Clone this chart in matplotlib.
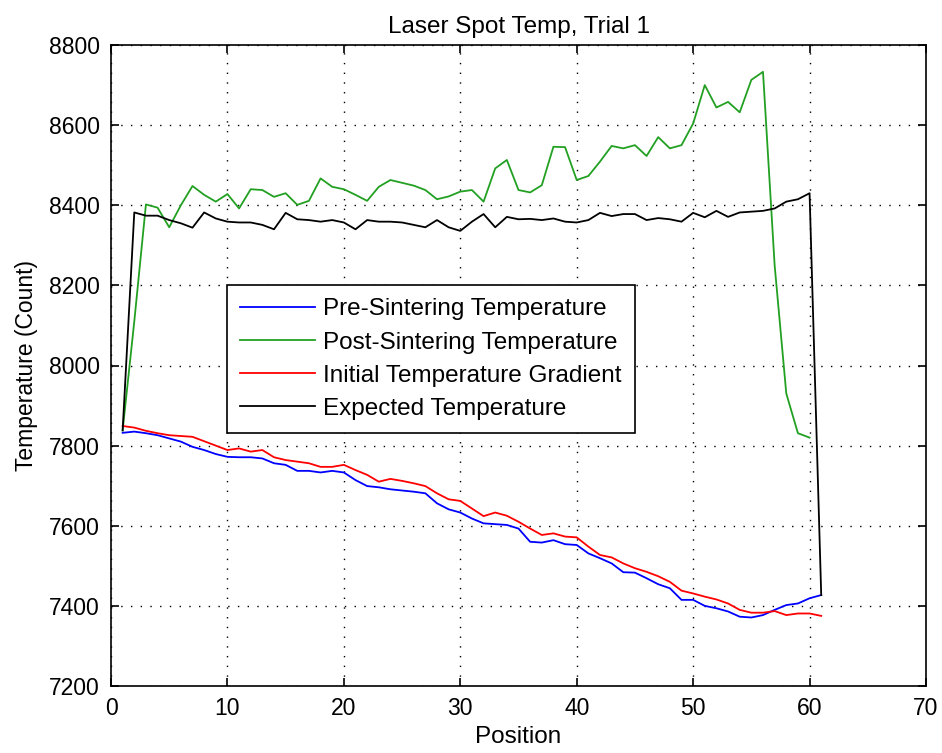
import matplotlib
matplotlib.use("Agg")
import matplotlib.pyplot as plt

positions = list(range(1, 62))
positions_post = list(range(1, 61))

pre_sintering = [7832, 7835, 7831, 7826, 7818, 7810, 7797, 7789, 7779, 7772,
                 7771, 7771, 7768, 7756, 7752, 7737, 7737, 7733, 7737, 7733,
                 7714, 7699, 7696, 7691, 7688, 7685, 7681, 7656, 7641, 7633,
                 7618, 7606, 7604, 7602, 7593, 7560, 7558, 7564, 7554, 7552,
                 7531, 7519, 7506, 7484, 7483, 7469, 7454, 7444, 7415, 7415,
                 7400, 7394, 7386, 7373, 7371, 7377, 7390, 7402, 7406, 7419,
                 7427]

post_sintering = [7838, 8110, 8402, 8394, 8345, 8400, 8448, 8426, 8409, 8428,
                  8392, 8440, 8438, 8421, 8430, 8401, 8411, 8467, 8446, 8440,
                  8426, 8411, 8446, 8463, 8456, 8449, 8438, 8415, 8422, 8434,
                  8438, 8409, 8492, 8513, 8438, 8432, 8450, 8546, 8545, 8463,
                  8473, 8509, 8548, 8542, 8550, 8523, 8570, 8542, 8550, 8604,
                  8700, 8644, 8658, 8632, 8713, 8733, 8250, 7930, 7831, 7820]

initial_gradient = [7849, 7845, 7837, 7831, 7826, 7824, 7822, 7811, 7800, 7789,
                    7793, 7785, 7789, 7771, 7764, 7760, 7756, 7747, 7747, 7752,
                    7739, 7727, 7710, 7717, 7712, 7706, 7699, 7681, 7666, 7662,
                    7643, 7624, 7633, 7625, 7610, 7593, 7577, 7581, 7573, 7571,
                    7548, 7527, 7521, 7506, 7494, 7485, 7474, 7460, 7438, 7431,
                    7423, 7416, 7406, 7390, 7383, 7383, 7387, 7377, 7381, 7381,
                    7375]

expected = [7838, 8382, 8374, 8374, 8363, 8355, 8344, 8382, 8367, 8359,
            8357, 8357, 8351, 8340, 8381, 8365, 8363, 8359, 8363, 8357,
            8340, 8363, 8359, 8359, 8357, 8351, 8345, 8363, 8345, 8336,
            8359, 8378, 8345, 8371, 8365, 8366, 8363, 8367, 8359, 8357,
            8363, 8381, 8373, 8378, 8378, 8363, 8368, 8365, 8359, 8381,
            8370, 8386, 8371, 8382, 8384, 8386, 8392, 8409, 8415, 8430,
            7427]

labels = ["Pre-Sintering Temperature", "Post-Sintering Temperature",
          "Initial Temperature Gradient", "Expected Temperature"]

plt.rcParams['font.family'] = ['Liberation Sans', 'DejaVu Sans']
plt.rcParams['font.size'] = 16

fig = plt.figure(figsize=(9.42, 7.53), dpi=100)
ax = fig.add_axes([111/942, 67/753, 815/942, 641/753])

lw = 1.3
ax.plot(positions, pre_sintering, color='#0000ff', lw=lw, label=labels[0])
ax.plot(positions_post, post_sintering, color='#22a022', lw=lw, label=labels[1])
ax.plot(positions, initial_gradient, color='#ff0000', lw=lw, label=labels[2])
ax.plot(positions, expected, color='#000000', lw=lw, label=labels[3])

ax.set_xlim(0, 70)
ax.set_ylim(7200, 8800)
ax.set_xticks(range(0, 71, 10))
ax.set_yticks(range(7200, 8801, 200))
ax.grid(True, color='black', linestyle=(0, (1, 6)), lw=1.0)
ax.tick_params(direction='in', length=6, width=1.2, top=True, right=True,
               pad=8, labelsize=16.5)
for s in ax.spines.values():
    s.set_linewidth(1.2)

ax.set_title("Laser Spot Temp, Trial 1", fontsize=17.5, pad=9)
ax.set_xlabel("Position", fontsize=17.5, labelpad=4)
ax.set_ylabel("Temperature (Count)", fontsize=16.5, labelpad=8)

leg = ax.legend(loc='upper left', bbox_to_anchor=(0.142, 0.6256),
                borderaxespad=0, fancybox=False, framealpha=1,
                edgecolor='black', handlelength=3.1, handletextpad=0.3,
                labelspacing=0.46, borderpad=0.55, fontsize=17.5)
leg.get_frame().set_linewidth(1.2)

fig.savefig("out.png", dpi=100)
